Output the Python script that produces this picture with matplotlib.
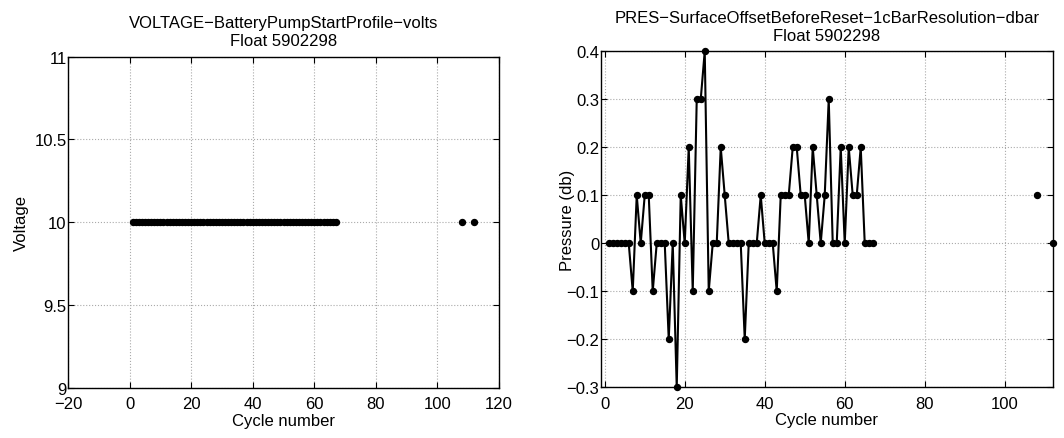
import matplotlib
matplotlib.use("Agg")
import matplotlib.pyplot as plt
import numpy as np

plt.rcParams['font.family'] = ['Liberation Sans', 'DejaVu Sans']
plt.rcParams['font.size'] = 12

# float 5902298 technical data
float_id = "5902298"
cycles = list(range(1, 68)) + [108, 112]

voltage = [10.0] * 67 + [10.0, 10.0]

pres_offset = [0, 0, 0, 0, 0, 0, -0.1, 0.1, 0, 0.1,
               0.1, -0.1, 0, 0, 0, -0.2, 0, -0.3, 0.1, 0,
               0.2, -0.1, 0.3, 0.3, 0.4, -0.1, 0, 0, 0.2, 0.1,
               0, 0, 0, 0, -0.2, 0, 0, 0, 0.1, 0,
               0, 0, -0.1, 0.1, 0.1, 0.1, 0.2, 0.2, 0.1, 0.1,
               0, 0.2, 0.1, 0, 0.1, 0.3, 0, 0, 0.2, 0,
               0.2, 0.1, 0.1, 0.2, 0, 0, 0,
               0.1, 0]

left_xticks = [-20, 0, 20, 40, 60, 80, 100, 120]
left_yticks = [9, 9.5, 10, 10.5, 11]
right_xticks = [0, 20, 40, 60, 80, 100]
right_yticks = [-0.3, -0.2, -0.1, 0, 0.1, 0.2, 0.3, 0.4]

# put NaN in missing cycles so the line breaks
cyc_full = np.arange(1, max(cycles) + 1)
pres_full = np.full(len(cyc_full), np.nan)
pres_full[np.array(cycles) - 1] = pres_offset

fig = plt.figure(figsize=(10.64, 4.39), dpi=100)
ax1 = fig.add_axes([0.0639, 0.1139, 0.4051, 0.7551])
ax2 = fig.add_axes([0.5646, 0.1155, 0.4248, 0.7654])


def style(ax):
    ax.grid(True, linestyle=':', color='#aaaaaa', linewidth=0.8)
    ax.tick_params(direction='in', top=True, right=True, length=4, width=0.8,
                   labelsize=12, pad=1)
    ax.tick_params(axis='x', pad=6)
    for s in ax.spines.values():
        s.set_linewidth(1.0)


ax1.plot(cycles, voltage, 'o', color='black', markersize=4.3)
ax1.set_xlim(-20, 120)
ax1.set_ylim(9, 11)
ax1.set_xticks(left_xticks)
ax1.set_yticks(left_yticks)
ax1.set_yticklabels(['9', '9.5', '10', '10.5', '11'])
ax1.set_xlabel('Cycle number', labelpad=1)
ax1.set_ylabel('Voltage', labelpad=4)
ax1.set_title('VOLTAGE\u2212BatteryPumpStartProfile\u2212volts\nFloat ' + float_id,
              fontsize=12, linespacing=1.25, pad=8)
style(ax1)

ax2.plot(cyc_full, pres_full, '-o', color='black', markersize=4.3, linewidth=1.5,
         clip_on=False)
ax2.set_xlim(-1, 112)
ax2.set_ylim(-0.3, 0.4)
ax2.set_xticks(right_xticks)
ax2.set_yticks(right_yticks)
ax2.set_yticklabels(['\u22120.3', '\u22120.2', '\u22120.1', '0', '0.1', '0.2', '0.3', '0.4'])
ax2.set_xlabel('Cycle number', labelpad=1)
ax2.set_ylabel('Pressure (db)')
ax2.yaxis.set_label_coords(-0.056, 0.5)
ax2.set_title('PRES\u2212SurfaceOffsetBeforeReset\u22121cBarResolution\u2212dbar\nFloat ' + float_id,
              fontsize=12, linespacing=1.25, pad=8)
style(ax2)

fig.savefig('out.png', dpi=100)
